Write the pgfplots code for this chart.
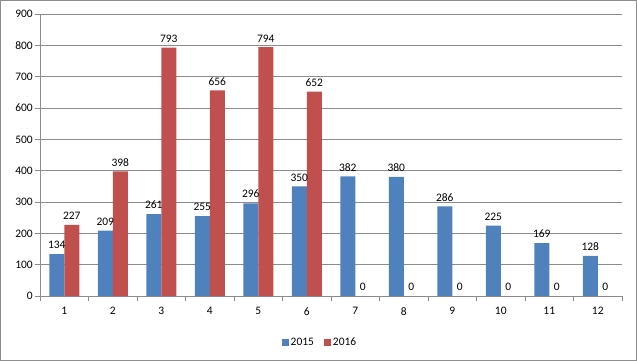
\documentclass[border=0pt]{standalone}
\usepackage{pgfplots}
\pgfplotsset{compat=1.18}
\usepackage{fontspec}
\setmainfont{Carlito}
\definecolor{xblue}{HTML}{4F81BD}
\definecolor{xred}{HTML}{C0504D}
\definecolor{xgrid}{HTML}{8C8C8C}
\begin{document}
\begin{tikzpicture}[x=1bp,y=1bp]
\useasboundingbox (0,0) rectangle (637,361);
\draw[color=xgrid,line width=1bp] (0.5,0.5) rectangle (636.5,360.5);
\begin{axis}[
  at={(40bp,65bp)}, anchor=origin,
  scale only axis, width=582bp, height=282bp,
  xmin=0.5, xmax=12.5, ymin=0, ymax=900,
  ybar=0pt, bar width=15bp,
  xtick={1,...,12},
  minor xtick={0.5,1.5,...,12.5},
  ytick={0,100,...,900},
  ymajorgrids, grid style={color=xgrid,line width=0.6bp},
  axis x line*=bottom, axis y line*=left,
  axis line style={-,color=xgrid,line width=0.8bp},
  tick align=outside,
  major tick length=5bp, minor tick length=5bp,
  x tick style={draw=none},
  minor x tick style={draw=xgrid,line width=0.8bp},
  y tick style={color=xgrid,line width=0.8bp},
  tick label style={font=\fontsize{11.5}{13}\selectfont},
  /pgf/number format/assume math mode=true,
  xticklabel style={yshift=-3bp},
  yticklabel style={inner sep=2bp},
  nodes near coords,
  every node near coord/.append style={font=\fontsize{11.5}{13}\selectfont,color=black,inner sep=2bp,yshift=3bp},
  legend style={at={(0.481,-0.135)},anchor=north,draw=none,legend columns=2,
    font=\fontsize{11.5}{13}\selectfont,
    /tikz/every even column/.append style={column sep=8bp}},
  legend image code/.code={\draw[#1,draw=none] (0bp,-3.5bp) rectangle (7bp,3.5bp);},
]
\addplot[fill=xblue,draw=none] coordinates {(1,134) (2,209) (3,261) (4,255) (5,296) (6,350) (7,382) (8,380) (9,286) (10,225) (11,169) (12,128)};
\addplot[fill=xred,draw=none] coordinates {(1,227) (2,398) (3,793) (4,656) (5,794) (6,652) (7,0) (8,0) (9,0) (10,0) (11,0) (12,0)};
\legend{2015,2016}
\end{axis}
\end{tikzpicture}
\end{document}
